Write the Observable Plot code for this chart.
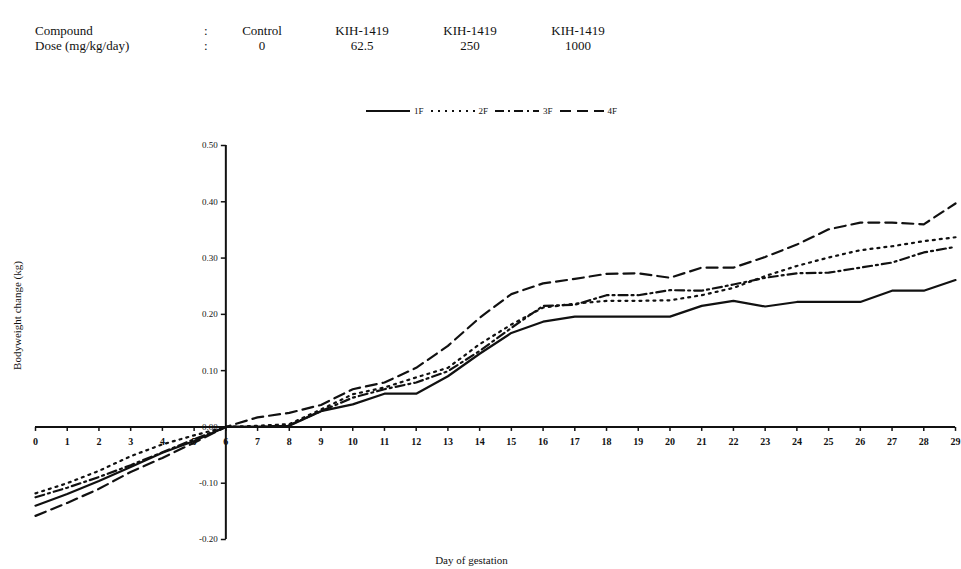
<!DOCTYPE html>
<html>
<head>
<meta charset="utf-8">
<script src="https://cdn.jsdelivr.net/npm/d3@7"></script>
<script src="https://cdn.jsdelivr.net/npm/@observablehq/plot@0.6"></script>
<style>
  body { margin: 0; background: #fff; font-family: "Liberation Serif", "DejaVu Serif", serif; color: #111; }
  #wrap { position: relative; width: 961px; height: 569px; overflow: hidden; }
  #chart { position: absolute; left: 0; top: 0; }
  .hdr { position: absolute; font-size: 13px; line-height: 15px; white-space: nowrap; }
  .ctr { transform: translateX(-50%); }
  #legend { position: absolute; left: 366px; top: 106px; display: flex; align-items: center; gap: 7px; font-size: 9px; }
  #legend .item { display: flex; align-items: center; gap: 4px; }
</style>
</head>
<body>
<div id="wrap">
  <div id="chart"></div>
  <div id="header"></div>
  <div id="legend"></div>
</div>
<script>
// ---- data ----
const rowLabels = ["Compound", "Dose (mg/kg/day)"];
const compounds = ["Control", "KIH-1419", "KIH-1419", "KIH-1419"];
const doses = ["0", "62.5", "250", "1000"];

const seriesNames = ["1F", "2F", "3F", "4F"];
const days = [0,1,2,3,4,5,6,7,8,9,10,11,12,13,14,15,16,17,18,19,20,21,22,23,24,25,26,27,28,29];
const s1F = [-0.140,-0.119,-0.096,-0.071,-0.046,-0.025,0.000,0.000,0.002,0.028,0.040,0.059,0.059,0.090,0.130,0.167,0.187,0.196,0.196,0.196,0.196,0.215,0.224,0.214,0.222,0.222,0.222,0.242,0.242,0.261];
const s2F = [-0.118,-0.100,-0.078,-0.052,-0.031,-0.015,0.000,0.002,0.005,0.031,0.058,0.070,0.088,0.105,0.147,0.182,0.212,0.219,0.224,0.224,0.225,0.234,0.247,0.268,0.286,0.301,0.314,0.321,0.330,0.337];
const s3F = [-0.125,-0.108,-0.089,-0.068,-0.045,-0.022,0.000,0.000,0.003,0.028,0.052,0.067,0.079,0.099,0.135,0.176,0.215,0.217,0.234,0.234,0.243,0.242,0.253,0.265,0.273,0.274,0.283,0.292,0.310,0.320];
const s4F = [-0.158,-0.135,-0.110,-0.080,-0.055,-0.028,0.000,0.017,0.025,0.039,0.067,0.079,0.105,0.144,0.194,0.236,0.255,0.263,0.272,0.273,0.265,0.283,0.283,0.302,0.324,0.351,0.363,0.363,0.360,0.397];

const yTicks = [-0.2,-0.1,0,0.1,0.2,0.3,0.4,0.5];
const yTickLabels = ["-0.20","-0.10","0.00","0.10","0.20","0.30","0.40","0.50"];
const xTickLabels = days.map(String);
const yAxisDay = 6;   // the vertical axis crosses at day 6
const xTitle = "Day of gestation";
const yTitle = "Bodyweight change (kg)";

// ---- styles ----
const dashes = { "1F": null, "2F": "2,5", "3F": "9,4,2,4", "4F": "11,6" };
const allSeries = [s1F, s2F, s3F, s4F];

const rows = [];
seriesNames.forEach((name, i) => days.forEach((d, j) => rows.push({ series: name, day: d, value: allSeries[i][j] })));

const yTickSym = { draw(ctx) { ctx.moveTo(-5, 0); ctx.lineTo(0, 0); } };
const xTickSym = { draw(ctx) { ctx.moveTo(0, 0); ctx.lineTo(0, 4); } };

const lineMarks = seriesNames.map(name => Plot.lineY(rows.filter(r => r.series === name), {
  x: "day", y: "value", stroke: "#111", strokeWidth: 2.2,
  strokeDasharray: dashes[name] || undefined, strokeLinejoin: "round"
}));

const plot = Plot.plot({
  width: 961, height: 569,
  marginLeft: 35, marginRight: 6, marginTop: 145, marginBottom: 30,
  style: { fontFamily: "Liberation Serif, serif", background: "transparent", color: "#111" },
  x: { domain: [0, 29], axis: null },
  y: { domain: [-0.2, 0.5], axis: null },
  marks: [
    Plot.ruleY([0], { stroke: "#111", strokeWidth: 2 }),
    Plot.ruleX([yAxisDay], { stroke: "#111", strokeWidth: 2 }),
    Plot.dot(days, { x: d => d, y: () => 0, symbol: xTickSym, stroke: "#111", strokeWidth: 1.5, fill: "none" }),
    Plot.dot(yTicks, { x: () => yAxisDay, y: d => d, symbol: yTickSym, stroke: "#111", strokeWidth: 1.5, fill: "none" }),
    Plot.text(days, { x: d => d, y: () => 0, text: (d, i) => xTickLabels[i], dy: 15, fontSize: 10, fontWeight: "bold", fill: "#111" }),
    Plot.text(yTicks, { x: () => yAxisDay, y: d => d, text: (d, i) => yTickLabels[i], dx: -8, textAnchor: "end", fontSize: 9, fill: "#111" }),
    ...lineMarks,
    Plot.text([yTitle], { frameAnchor: "left", textAnchor: "middle", rotate: -90, dx: -18, dy: -27, fontSize: 11, fill: "#111" }),
    Plot.text([xTitle], { frameAnchor: "bottom", textAnchor: "middle", dx: -24, dy: 24, fontSize: 11, fill: "#111" })
  ]
});
document.getElementById("chart").appendChild(plot);

// ---- header table ----
const header = document.getElementById("header");
const colX = [262, 362, 470, 578];
const rowY = [23, 38];
[compounds, doses].forEach((vals, r) => {
  const lab = document.createElement("div");
  lab.className = "hdr"; lab.style.left = "35px"; lab.style.top = rowY[r] + "px"; lab.textContent = rowLabels[r];
  header.appendChild(lab);
  const colon = document.createElement("div");
  colon.className = "hdr"; colon.style.left = "204px"; colon.style.top = rowY[r] + "px"; colon.textContent = ":";
  header.appendChild(colon);
  vals.forEach((v, c) => {
    const el = document.createElement("div");
    el.className = "hdr ctr"; el.style.left = colX[c] + "px"; el.style.top = rowY[r] + "px"; el.textContent = v;
    header.appendChild(el);
  });
});

// ---- legend ----
const legend = document.getElementById("legend");
seriesNames.forEach(name => {
  const item = document.createElement("div");
  item.className = "item";
  const svg = d3.create("svg").attr("width", 44).attr("height", 6);
  svg.append("line").attr("x1", 0).attr("x2", 44).attr("y1", 3).attr("y2", 3)
    .attr("stroke", "#111").attr("stroke-width", 2)
    .attr("stroke-dasharray", dashes[name]);
  item.appendChild(svg.node());
  const t = document.createElement("span");
  t.textContent = name;
  item.appendChild(t);
  legend.appendChild(item);
});
</script>
</body>
</html>
